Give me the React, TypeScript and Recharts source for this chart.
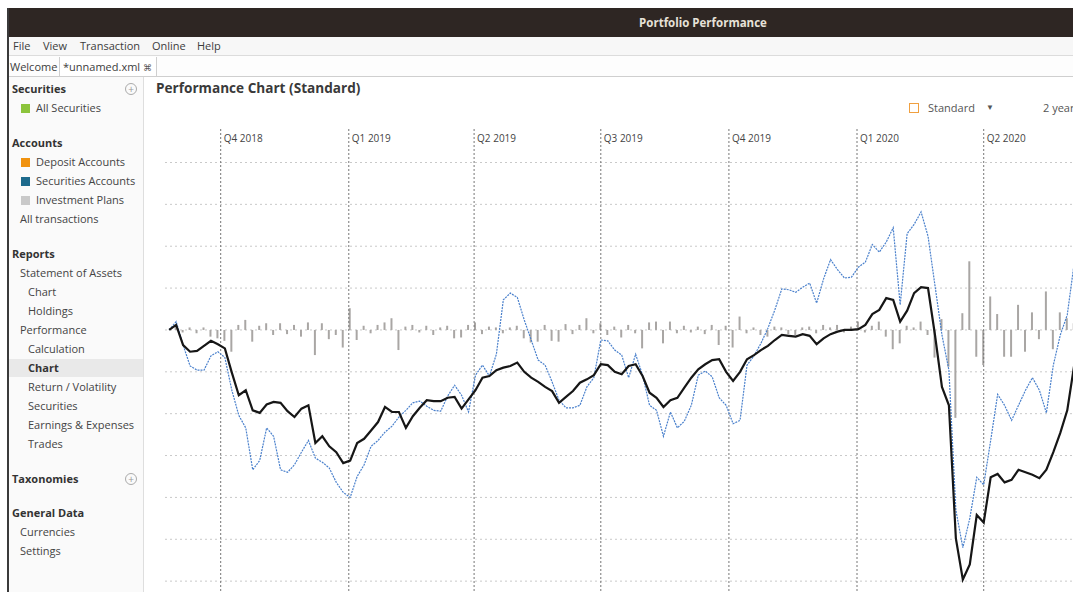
import React from "react";
import { ComposedChart, Line, Bar, XAxis, YAxis, CartesianGrid, ReferenceLine } from "recharts";

// series sampled every 5 days starting 2018-08-25, values in %
const START_DATE = "2018-08-25";
const STEP_DAYS = 5;

const portfolio = [
  0.0, 0.6, -1.8, -2.6, -2.5, -1.9, -1.3, -1.7, -2.2, -5.1,
  -7.8, -7.2, -9.6, -9.9, -8.9, -8.6, -8.7, -9.7, -10.4, -9.4,
  -9.0, -13.5, -12.7, -13.9, -14.6, -15.9, -15.6, -13.5, -13.0, -12.0,
  -11.0, -9.2, -9.8, -9.8, -11.7, -10.3, -9.3, -8.4, -8.5, -8.5,
  -8.1, -8.0, -9.4, -8.3, -7.2, -5.7, -5.5, -4.8, -4.5, -4.3,
  -3.9, -5.0, -5.7, -6.2, -6.8, -7.3, -8.7, -8.0, -7.3, -6.3,
  -5.9, -5.4, -4.1, -4.2, -5.0, -5.3, -4.3, -4.1, -5.5, -7.5,
  -8.1, -9.2, -8.4, -8.1, -6.9, -5.7, -4.7, -4.1, -3.6, -3.5,
  -5.0, -6.1, -5.0, -3.5, -3.0, -2.4, -1.9, -1.2, -0.6, -0.7,
  -0.8, -0.5, -0.7, -1.7, -1.0, -0.5, -0.2, 0.0, 0.0, 0.1,
  0.6, 1.9, 2.4, 3.8, 3.6, 1.0, 2.3, 4.4, 5.1, 5.0,
  -0.6, -6.8, -9.0, -24.9, -29.8, -28.0, -22.1, -23.0, -17.6, -17.2,
  -18.2, -17.9, -16.7, -17.0, -17.3, -17.7, -16.7, -14.6, -12.3, -9.6,
  -4.2,
];

const benchmark = [
  0.0, 1.0, -1.8, -4.3, -4.8, -4.8, -3.1, -2.6, -3.3, -7.2,
  -10.2, -11.7, -16.7, -15.6, -11.7, -12.7, -16.7, -17.0, -16.1, -14.6,
  -13.2, -15.3, -15.8, -16.5, -18.2, -19.4, -20.0, -17.5, -16.1, -13.9,
  -13.2, -12.2, -11.5, -10.4, -9.6, -8.7, -8.5, -9.1, -9.6, -9.7,
  -7.9, -6.6, -7.8, -9.8, -5.4, -4.2, -5.5, -2.9, 3.6, 4.4,
  3.9, 1.2, -1.2, -3.6, -4.2, -6.2, -8.4, -9.3, -9.3, -9.0,
  -6.8, -5.7, -1.2, -1.3, -2.4, -3.0, -5.7, -2.9, -5.4, -9.0,
  -9.6, -12.7, -9.8, -11.7, -10.9, -9.0, -5.4, -4.9, -5.6, -8.1,
  -9.0, -11.2, -10.8, -4.2, -3.1, -1.6, 0.2, 2.4, 4.9, 4.8,
  4.5, 5.1, 5.6, 3.2, 6.1, 8.4, 7.2, 6.2, 6.3, 7.5,
  8.1, 10.2, 9.3, 10.5, 12.2, 3.0, 11.5, 12.6, 14.1, 11.2,
  5.3, -0.6, -4.8, -21.5, -26.0, -22.5, -17.6, -18.5, -13.2, -7.7,
  -9.0, -10.8, -9.0, -7.2, -5.7, -7.2, -9.9, -4.2, -0.6, 1.8,
  8.0,
];

const delta = [
  0.0, 0.4, -0.3, 0.3, -0.4, 0.3, -0.8, -1.0, -1.3, -2.6,
  0.6, 1.2, -1.4, 0.5, 0.8, -0.6, 0.8, -0.5, 0.6, -0.8,
  0.9, -3.0, 0.8, -1.1, -0.6, -2.1, 2.6, -1.2, 0.5, -0.4,
  0.6, 0.9, 1.4, -2.4, 0.4, 0.6, -0.3, 0.5, -0.6, 0.3,
  0.5, -1.0, -0.9, 0.6, 0.9, -0.5, 0.4, 0.3, -0.4, 0.3,
  0.5, -1.0, -1.5, -1.4, 0.6, -1.3, -1.4, 0.7, -0.5, 0.6,
  1.4, -0.4, 0.8, -0.6, 0.4, -0.9, 0.6, -0.4, -2.2, 0.9,
  1.0, -1.6, 1.0, -0.4, 0.5, -0.3, 0.4, -0.5, 0.6, -1.8,
  0.5, -2.1, 1.6, -0.4, 0.3, -0.6, -0.8, 0.4, 0.3, -0.5,
  -0.6, 0.3, 0.4, -0.4, 0.6, 0.3, 0.6, -0.3, 0.4, 1.0,
  -0.3, 0.5, 1.0, -0.8, -2.3, -1.6, 0.5, 0.3, 1.0, -0.6,
  -3.3, 1.3, -4.4, -10.5, 2.0, 8.2, -3.2, -4.2, 4.0, 1.9,
  -3.2, -3.2, 3.0, -2.6, 2.1, -1.1, 4.6, -2.3, 2.1, 1.4,
  0.8,
];

const QUARTER_DATES = [
  "2018-10-01", "2019-01-01", "2019-04-01", "2019-07-01",
  "2019-10-01", "2020-01-01", "2020-04-01",
];
const QUARTER_LABELS = [
  "Q4 2018", "Q1 2019", "Q2 2019", "Q3 2019",
  "Q4 2019", "Q1 2020", "Q2 2020",
];
const Y_TICKS = [-30, -25, -20, -15, -10, -5, 0, 5, 10, 15, 20];
const PERIOD = ["2018-08-22", "2020-08-25"];

const DAY = 86400000;
const toTs = (s: string) => {
  const [y, m, d] = s.split("-").map(Number);
  return Date.UTC(y, m - 1, d);
};

const startTs = toTs(START_DATE);
const data = portfolio.map((p, i) => ({
  t: startTs + i * STEP_DAYS * DAY,
  portfolio: p,
  benchmark: benchmark[i],
  delta: delta[i],
}));
const quarterTicks = QUARTER_DATES.map(toTs);

const UI_FONT = "'Open Sans', 'Noto Sans', sans-serif";

const QuarterLabel = (props: any) => {
  const { viewBox, text } = props;
  if (!viewBox) return null;
  return (
    <text x={viewBox.x + 3} y={viewBox.y + 13} fontSize={10} fill="#444" fontFamily={UI_FONT}>
      {text}
    </text>
  );
};

const abs = (left: number, top: number, extra: React.CSSProperties = {}): React.CSSProperties => ({
  position: "absolute",
  left,
  top,
  whiteSpace: "nowrap",
  ...extra,
});

const Square = ({ color }: { color: string }) => (
  <span
    style={{
      display: "inline-block",
      width: 9,
      height: 9,
      background: color,
      marginRight: 6,
      verticalAlign: "-1px",
    }}
  />
);

const PlusCircle = ({ left, top }: { left: number; top: number }) => (
  <div
    style={abs(left, top, {
      width: 10,
      height: 10,
      borderRadius: "50%",
      border: "1px solid #aaa",
      color: "#999",
      fontSize: 10,
      lineHeight: "10px",
      textAlign: "center",
    })}
  >
    +
  </div>
);

type NavItem = { text: string; y: number; x: number; bold?: boolean; icon?: string };

const NAV: NavItem[] = [
  { text: "Securities", y: 89, x: 12, bold: true },
  { text: "All Securities", y: 108, x: 21, icon: "#8cc43c" },
  { text: "Accounts", y: 143, x: 12, bold: true },
  { text: "Deposit Accounts", y: 162, x: 21, icon: "#f0920f" },
  { text: "Securities Accounts", y: 181, x: 21, icon: "#1d6a8c" },
  { text: "Investment Plans", y: 200, x: 21, icon: "#c9c9c9" },
  { text: "All transactions", y: 219, x: 20 },
  { text: "Reports", y: 254, x: 12, bold: true },
  { text: "Statement of Assets", y: 273, x: 20 },
  { text: "Chart", y: 292, x: 28 },
  { text: "Holdings", y: 311, x: 28 },
  { text: "Performance", y: 330, x: 20 },
  { text: "Calculation", y: 349, x: 28 },
  { text: "Chart", y: 368, x: 28, bold: true },
  { text: "Return / Volatility", y: 387, x: 28 },
  { text: "Securities", y: 406, x: 28 },
  { text: "Earnings & Expenses", y: 425, x: 28 },
  { text: "Trades", y: 444, x: 28 },
  { text: "Taxonomies", y: 479, x: 12, bold: true },
  { text: "General Data", y: 513, x: 12, bold: true },
  { text: "Currencies", y: 532, x: 20 },
  { text: "Settings", y: 551, x: 20 },
];

const MENU = [
  { text: "File", x: 13 },
  { text: "View", x: 43 },
  { text: "Transaction", x: 80 },
  { text: "Online", x: 152 },
  { text: "Help", x: 197 },
];

export default function App() {
  return (
    <div
      style={{
        position: "relative",
        width: 1073,
        height: 592,
        overflow: "hidden",
        background: "#fff",
        fontFamily: UI_FONT,
        fontSize: 11,
        color: "#3c3c3c",
      }}
    >
      <style>{"body{margin:0;overflow:hidden}"}</style>

      {/* title bar */}
      <div style={abs(8, 8, { width: 1065, height: 29, background: "#2e2623" })} />
      <div
        style={abs(603, 15, {
          width: 200,
          textAlign: "center",
          color: "#e6e1d8",
          fontWeight: 700,
          fontSize: 11.5,
        })}
      >
        Portfolio Performance
      </div>

      {/* window left border */}
      <div style={abs(7, 8, { width: 2, height: 584, background: "#3a3a3a" })} />

      {/* menu bar */}
      <div style={abs(9, 37, { width: 1064, height: 18, background: "#f7f7f7", borderBottom: "1px solid #dcdcdc" })} />
      {MENU.map((m) => (
        <div key={m.text} style={abs(m.x, 38, { fontSize: 11 })}>
          {m.text}
        </div>
      ))}

      {/* tab row */}
      <div style={abs(9, 56, { width: 1064, height: 20, background: "#fdfdfd", borderBottom: "1px solid #cfcfcf" })} />
      <div style={abs(9, 57, { width: 50, height: 19, borderRight: "1px solid #cfcfcf" })} />
      <div style={abs(60, 57, { width: 96, height: 19, borderRight: "1px solid #cfcfcf", background: "#fff" })} />
      <div style={abs(10, 59, { fontSize: 11 })}>Welcome</div>
      <div style={abs(63, 59, { fontSize: 11 })}>
        *unnamed.xml <span style={{ fontSize: 9, color: "#555" }}>⌘</span>
      </div>

      {/* sidebar */}
      <div style={abs(9, 77, { width: 134, height: 515, background: "#fafafa", borderRight: "1px solid #dedede" })} />
      <div style={abs(9, 359, { width: 134, height: 18, background: "#e9e9e9" })} />
      {NAV.map((n, i) => (
        <div
          key={i}
          style={abs(n.x, n.y - 8, {
            fontWeight: n.bold ? 700 : 400,
            color: n.bold ? "#333" : "#444",
            fontSize: 11,
          })}
        >
          {n.icon && <Square color={n.icon} />}
          {n.text}
        </div>
      ))}
      <PlusCircle left={125} top={83} />
      <PlusCircle left={125} top={473} />

      {/* chart header */}
      <div style={abs(156, 78, { fontWeight: 700, fontSize: 13.6, color: "#3a3a3a" })}>
        Performance Chart (Standard)
      </div>
      <div
        style={abs(909, 103, {
          width: 8,
          height: 8,
          border: "1px solid #f0a040",
        })}
      />
      <div style={abs(928, 100, { fontSize: 11, color: "#555" })}>Standard</div>
      <div style={abs(986, 101, { fontSize: 8, color: "#555" })}>▼</div>
      <div style={abs(1043, 100, { fontSize: 11, color: "#555" })}>2 years</div>

      {/* chart */}
      <div style={abs(165, 129)}>
        <ComposedChart
          width={1022}
          height={494}
          data={data}
          margin={{ top: 0, right: 0, bottom: 0, left: 0 }}
        >
          <CartesianGrid
            vertical={false}
            horizontalValues={Y_TICKS}
            stroke="#c9c9c9"
            strokeDasharray="2 3"
          />
          <XAxis
            dataKey="t"
            type="number"
            domain={[toTs(PERIOD[0]), toTs(PERIOD[1])]}
            hide
            allowDataOverflow
          />
          <YAxis
            type="number"
            domain={[-35, 24]}
            ticks={Y_TICKS}
            hide
            allowDataOverflow
          />
          {quarterTicks.map((ts, i) => (
            <ReferenceLine
              key={ts}
              x={ts}
              stroke="#767676"
              strokeDasharray="2 2"
              label={<QuarterLabel text={QUARTER_LABELS[i]} />}
            />
          ))}
          <Bar dataKey="delta" fill="#a9a6a4" barSize={2} isAnimationActive={false} />
          <Line
            dataKey="benchmark"
            type="linear"
            stroke="#4a80cc"
            strokeWidth={1.2}
            strokeDasharray="2 1"
            dot={false}
            isAnimationActive={false}
          />
          <Line
            dataKey="portfolio"
            type="linear"
            stroke="#161616"
            strokeWidth={2.2}
            dot={false}
            isAnimationActive={false}
          />
        </ComposedChart>
      </div>
    </div>
  );
}
